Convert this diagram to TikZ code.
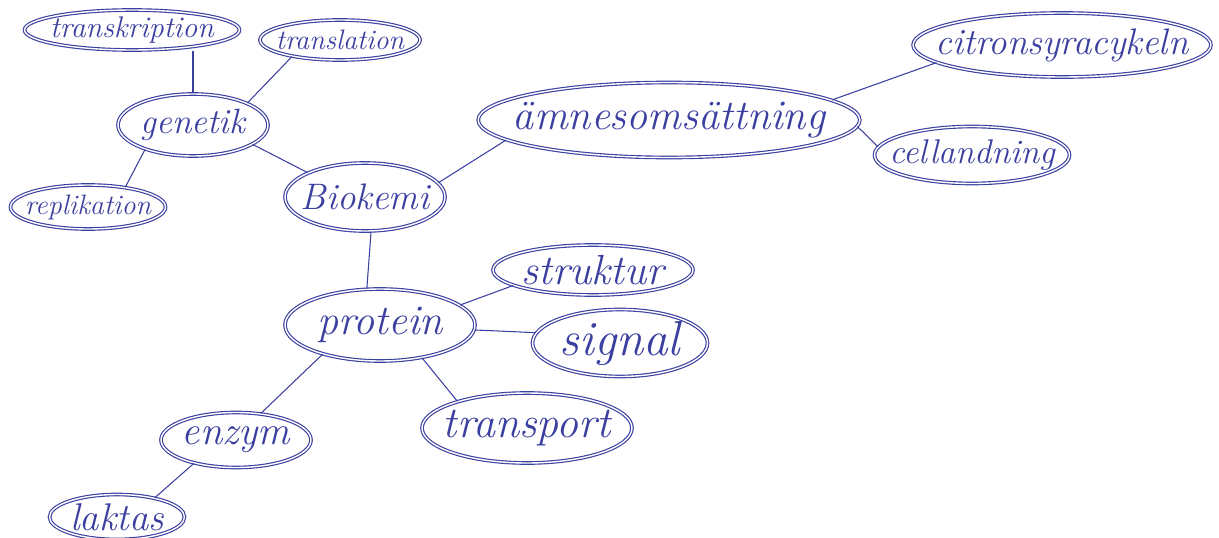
\documentclass[tikz,border=0pt]{standalone}
\definecolor{inkBlue}{HTML}{3B3FA0}
\usepackage{tikz}
\usetikzlibrary{shapes.geometric, positioning}
\tikzset{
    topic node/.style={ellipse, draw=inkBlue, line width=0.65pt, double=white, double distance=0.8pt, inner xsep=-12pt, inner ysep=-5pt, text=inkBlue},
    hand/.style={font=\fontsize{#1}{#1}\selectfont\itshape},
    link line/.style={inkBlue, line width=0.6pt},
}

\begin{document}
\begin{tikzpicture}[x=0.02cm, y=-0.02cm]
        \useasboundingbox (0,0) rectangle (1219,537);
        \node[topic node, hand=21, minimum width=3.2cm, minimum height=1.36cm] (biokemi) at (365,197) {Biokemi};
        \node[topic node, hand=20, minimum width=3.0cm, minimum height=1.24cm] (genetik) at (193,125) {genetik};
        \node[topic node, hand=17, minimum width=4.3cm, minimum height=0.8cm] (transkription) at (132,30) {transkription};
        \node[topic node, hand=16, minimum width=3.2cm, minimum height=0.8cm] (translation) at (340,40) {translation};
        \node[topic node, hand=16, minimum width=3.1cm, minimum height=0.88cm] (replikation) at (88,207) {replikation};
        \node[topic node, hand=24, minimum width=7.04cm, minimum height=1.5cm] (amnes) at (669,120) {ämnesomsättning};
        \node[topic node, hand=21, minimum width=5.8cm, minimum height=1.28cm] (citron) at (1062,45) {citronsyracykeln};
        \node[topic node, hand=19.5, minimum width=3.9cm, minimum height=1.14cm] (cellandning) at (972,155) {cellandning};
        \node[topic node, hand=24, minimum width=3.8cm, minimum height=1.44cm] (protein) at (380,325) {protein};
        \node[topic node, hand=24, minimum width=4.0cm, minimum height=1.0cm] (struktur) at (593,270) {struktur};
        \node[topic node, hand=28, minimum width=3.5cm, minimum height=1.34cm] (signal) at (620,343) {signal};
        \node[topic node, hand=25, minimum width=4.2cm, minimum height=1.4cm] (transport) at (527,428) {transport};
        \node[topic node, hand=23, minimum width=3.0cm, minimum height=1.1cm] (enzym) at (236,440) {enzym};
        \node[topic node, hand=22, minimum width=2.7cm, minimum height=0.9cm] (laktas) at (117,517) {laktas};
        \draw[link line] (genetik.north) -- (genetik.north |- transkription.south);
        \draw[link line] (genetik.22) -- (translation.199);
        \draw[link line] (genetik.207) -- (replikation.28);
        \draw[link line] (genetik.-18) -- (biokemi.157);
        \draw[link line] (biokemi.11) -- (amnes.187);
        \draw[link line] (amnes.7) -- (citron.188);
        \draw[link line] (amnes.-2) -- (cellandning.175);
        \draw[link line] (biokemi.-80) -- (protein.110);
        \draw[link line] (protein.14) -- (struktur.191);
        \draw[link line] (protein.-3) -- (signal.173);
        \draw[link line] (protein.-38) -- (transport.159);
        \draw[link line] (protein.207) -- (enzym.47);
        \draw[link line] (enzym.209) -- (laktas.27);
    \end{tikzpicture}
\end{document}
